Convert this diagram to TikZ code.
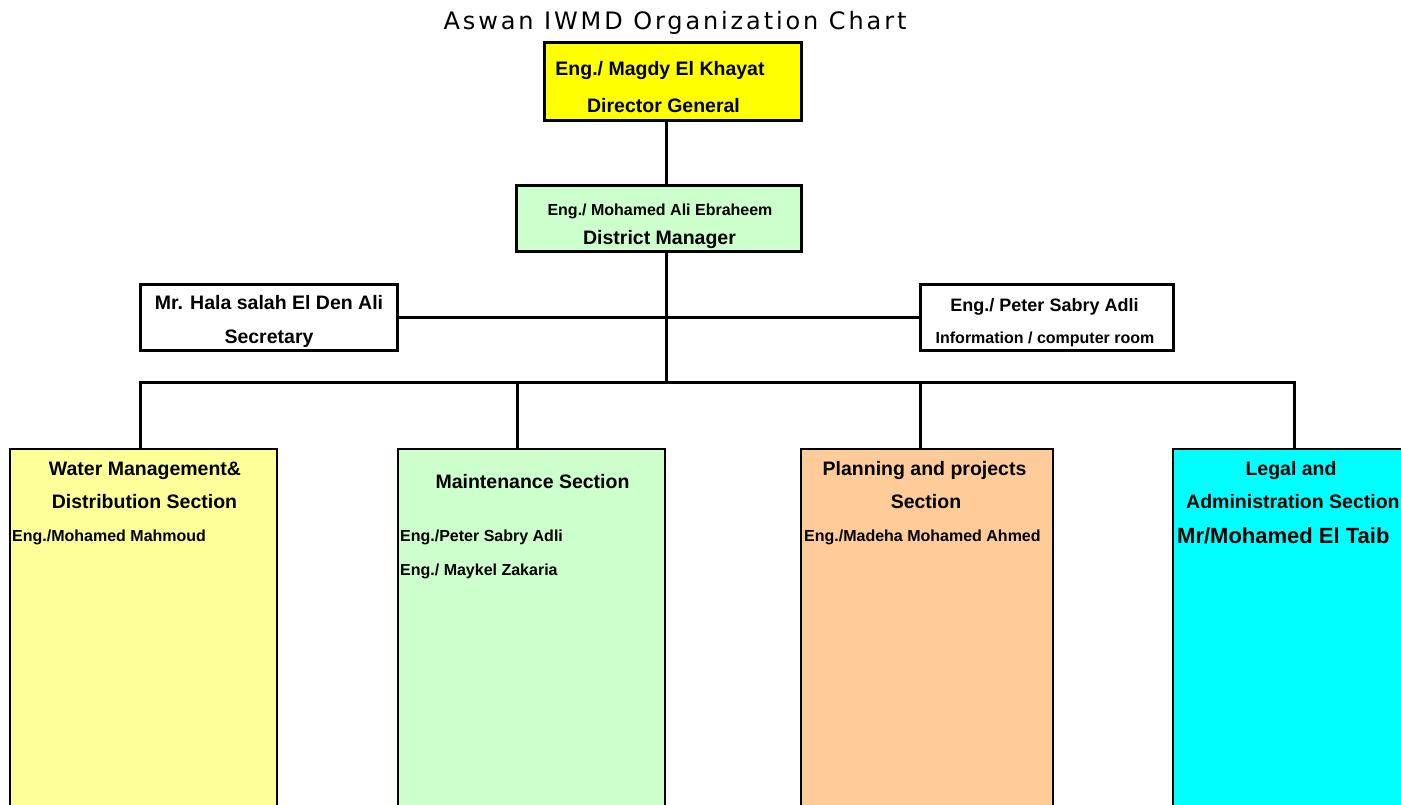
\documentclass[tikz,border=0pt]{standalone}
\usepackage{fontspec}
\setmainfont{Liberation Sans}
\newfontfamily\titlefont[LetterSpace=12]{DejaVu Sans}
\definecolor{dgyellow}{HTML}{FFFF00}
\definecolor{lgreen}{HTML}{CCFFCC}
\definecolor{lyellow}{HTML}{FFFF99}
\definecolor{peach}{HTML}{FFCC99}
\definecolor{aqua}{HTML}{00FFFF}
\tikzset{
  topbox/.style={draw=black, line width=3pt, inner sep=0pt},
  secbox/.style={draw=black, line width=2pt, inner sep=0pt, minimum height=382pt, anchor=north},
  conn/.style={line width=3pt},
  big/.style={font=\bfseries\fontsize{19.5}{22}\selectfont, inner sep=0pt, anchor=base},
  mid/.style={font=\bfseries\fontsize{18}{20}\selectfont, inner sep=0pt, anchor=base},
  small/.style={font=\bfseries\fontsize{16}{18}\selectfont, inner sep=0pt, anchor=base},
  huge/.style={font=\bfseries\fontsize{22}{24}\selectfont, inner sep=0pt, anchor=base west},
}
\begin{document}
\begin{tikzpicture}[x=1pt,y=-1pt]
\clip (0,0) rectangle (1401,805);
\fill[white] (0,0) rectangle (1401,805);

% title
\node[inner sep=0pt, anchor=base, font=\titlefont\fontsize{24}{26}\selectfont] (title) at (675,29.5) {Aswan IWMD Organization Chart};

% coordinates
\coordinate (spine) at (666,0);
\coordinate (j2) at (666,382);
\coordinate (d1) at (140,382);
\coordinate (d2) at (517,382);
\coordinate (d3) at (920,382);
\coordinate (d4) at (1294,382);

% top boxes
\node[topbox, fill=dgyellow, minimum width=257pt, minimum height=78pt] (dir) at (672.5,82) {};
\node[topbox, fill=lgreen, minimum width=285pt, minimum height=66pt] (dm) at (658.5,219) {};
\node[topbox, fill=white, minimum width=257pt, minimum height=66pt] (sec) at (268.5,317.5) {};
\node[topbox, fill=white, minimum width=253pt, minimum height=66pt] (info) at (1046.5,317.5) {};

% section boxes
\node[secbox, fill=lyellow, minimum width=267pt] (wm) at (143.5,448) {};
\node[secbox, fill=lgreen, minimum width=267pt] (maint) at (531.5,448) {};
\node[secbox, fill=peach, minimum width=252pt] (plan) at (927,448) {};
\node[secbox, fill=aqua, minimum width=267pt] (legal) at (1306.5,448) {};

% connectors
\draw[conn] (dir.south -| spine) -- (dm.north -| spine);
\draw[conn] (dm.south -| spine) -- (j2);
\draw[conn] (sec.east) -- (info.west);
\draw[conn] (wm.north -| d1) -- (d1) -- (d4) -- (legal.north -| d4);
\draw[conn] (d2) -- (d2 |- maint.north);
\draw[conn] (d3) -- (d3 |- plan.north);

% texts in top boxes
\node[big] (dirname) at (660,76) {Eng./ Magdy El Khayat};
\node[big] (dirrole) at (663.5,113) {Director General};
\node[small] (dmname) at (660,216) {Eng./ Mohamed Ali Ebraheem};
\node[big] (dmrole) at (659.5,245) {District Manager};
\node[big] (secname) at (269,309) {Mr. Hala salah El Den Ali};
\node[big] (secrole) at (269,343) {Secretary};
\node[mid] (infoname) at (1044.5,311.5) {Eng./ Peter Sabry Adli};
\node[small] (inforole) at (1045,343) {Information / computer room};

% section texts
\node[big] (wm1) at (145,475) {Water Management\&};
\node[big] (wm2) at (144.5,508) {Distribution Section};
\node[small, anchor=base west] (wm3) at (12,541) {Eng./Mohamed Mahmoud};

\node[big] (mt1) at (532.5,488) {Maintenance Section};
\node[small, anchor=base west] (mt2) at (400,541) {Eng./Peter Sabry Adli};
\node[small, anchor=base west] (mt3) at (400,575) {Eng./ Maykel Zakaria};

\node[big] (pl1) at (924.5,475) {Planning and projects};
\node[big] (pl2) at (926,508) {Section};
\node[small, anchor=base west] (pl3) at (804,541) {Eng./Madeha Mohamed Ahmed};

\node[big] (lg1) at (1291,475) {Legal and};
\node[big, anchor=base west] (lg2) at (1186,508) {Administration Section};
\node[huge] (lg3) at (1177,543) {Mr/Mohamed El Taib};
\end{tikzpicture}
\end{document}
